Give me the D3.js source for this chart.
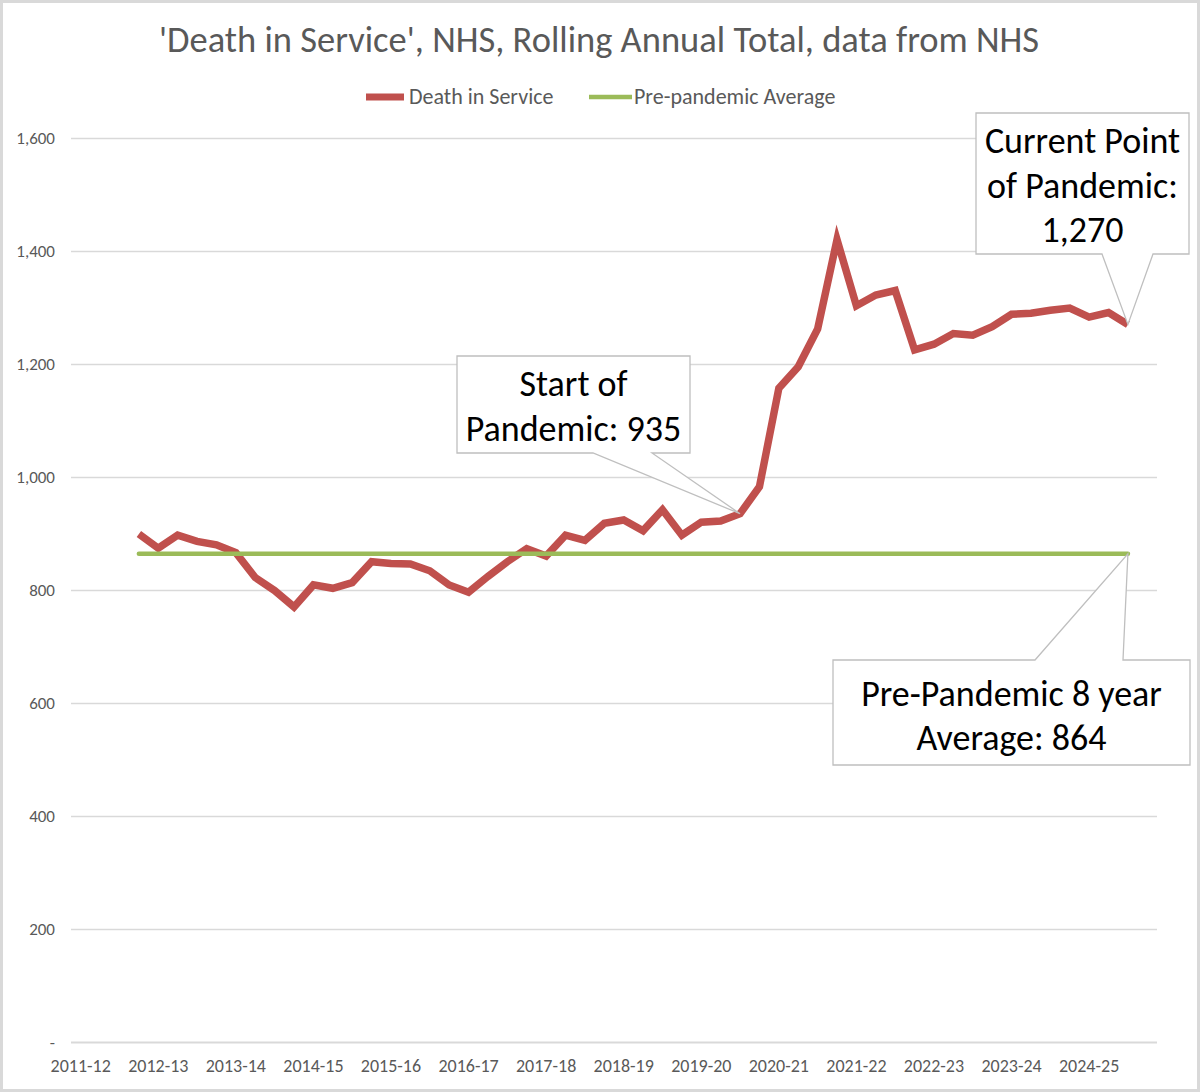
<!DOCTYPE html>
<html>
<head>
<meta charset="utf-8">
<script src="https://cdn.jsdelivr.net/npm/d3@7"></script>
<style>
  body { margin: 0; background: #fff; }
  svg text { font-family: Carlito, Calibri, "Liberation Sans", Arial, sans-serif; }
</style>
</head>
<body>
<div id="chart"></div>
<script>
/* CONSTANTS AND GLOBALS */

const width = 1200;
const height = 1092;
const margin = { top: 138, left: 71, right: 43, bottom: 50 };

// fiscal years on the category axis, four quarters each
const years = ["2011-12", "2012-13", "2013-14", "2014-15", "2015-16", "2016-17", "2017-18",
               "2018-19", "2019-20", "2020-21", "2021-22", "2022-23", "2023-24", "2024-25"];
const quarters = ["Q1", "Q2", "Q3", "Q4"];

// rolling annual total, first value is 2011-12 Q4
const deaths = [899, 874, 897, 886, 880, 866, 822, 799, 770, 809, 803, 813,
                850, 847, 846, 834, 809, 796, 824, 850, 873, 860, 897, 888,
                918, 924, 905, 942, 897, 920, 922, 935, 983, 1157, 1195, 1262,
                1420, 1303, 1322, 1330, 1225, 1235, 1254, 1251, 1266, 1288, 1290, 1295,
                1299, 1283, 1291, 1270];
const firstQuarter = 3;
const prePandemicAvg = 864;
const pandemicStartIndex = 31;

const yTicks = [0, 200, 400, 600, 800, 1000, 1200, 1400, 1600];

const seriesNames = ["Death in Service", "Pre-pandemic Average"];
const colors = ["#c0504d", "#9bbb59"];

const categories = years.flatMap(y => quarters.map(q => `${y} ${q}`));
const data = deaths.map((v, i) => ({ cat: categories[firstQuarter + i], value: v }));

const fontStack = "Carlito, Calibri, 'Liberation Sans', Arial, sans-serif";

// SCALES =================================================
const xScale = d3.scaleBand()
  .domain(categories)
  .range([margin.left, 1157]);

const yScale = d3.scaleLinear()
  .domain([0, 1600])
  .range([1042, margin.top]);

const xPos = d => xScale(d.cat) + xScale.bandwidth() / 2;

// CREATE MAIN SVG ELEMENT ==================================
const svg = d3.select("#chart")
  .append("svg")
  .attr("width", width)
  .attr("height", height);

svg.append("rect")
  .attr("x", 1.5).attr("y", 1.5)
  .attr("width", width - 3).attr("height", height - 3)
  .attr("fill", "#fff")
  .attr("stroke", "#d9d9d9")
  .attr("stroke-width", 3);

// gridlines
svg.append("g")
  .selectAll("line")
  .data(yTicks)
  .join("line")
  .attr("x1", margin.left)
  .attr("x2", 1157)
  .attr("y1", d => Math.round(yScale(d)) + 0.5)
  .attr("y2", d => Math.round(yScale(d)) + 0.5)
  .attr("stroke", "#d9d9d9")
  .attr("stroke-width", d => d === 0 ? 2 : 1.3);

// AXIS TICKS  ----------------------------------------------
const yAxis = d3.axisLeft(yScale)
  .tickValues(yTicks)
  .tickSize(0)
  .tickPadding(16)
  .tickFormat(d => d === 0 ? "-" : d3.format(",")(d));

svg.append("g")
  .attr("transform", `translate(${margin.left}, 0)`)
  .call(yAxis)
  .call(g => g.select(".domain").remove())
  .call(g => g.selectAll("text")
    .style("font-family", fontStack)
    .style("font-size", "17px")
    .attr("fill", "#595959"));

const xAxis = d3.axisBottom(xScale)
  .tickValues(categories.filter((_, i) => i % 4 === 0))
  .tickSize(0)
  .tickPadding(17)
  .tickFormat(d => d.split(" ")[0]);

svg.append("g")
  .attr("transform", `translate(0, 1042)`)
  .call(xAxis)
  .call(g => g.select(".domain").remove())
  .call(g => g.selectAll("text")
    .style("font-family", fontStack)
    .style("font-size", "18px")
    .attr("fill", "#595959"));

// LINES ==========================================
const line = d3.line()
  .x(xPos)
  .y(d => yScale(d.value));

svg.append("path")
  .datum(data)
  .attr("d", line)
  .attr("fill", "none")
  .attr("stroke", colors[0])
  .attr("stroke-width", 7.5)
  .attr("stroke-linejoin", "miter")
  .attr("stroke-miterlimit", 10);

const avgLine = d3.line()
  .x(xPos)
  .y(() => yScale(prePandemicAvg));

svg.append("path")
  .datum([data[0], data[data.length - 1]])
  .attr("d", avgLine)
  .attr("fill", "none")
  .attr("stroke", colors[1])
  .attr("stroke-width", 4.5)
  .attr("stroke-linecap", "round");

// TITLE AND LEGEND ==========================================
svg.append("text")
  .attr("x", 599)
  .attr("y", 52)
  .attr("text-anchor", "middle")
  .attr("fill", "#595959")
  .style("font-size", "36.5px")
  .text("'Death in Service', NHS, Rolling Annual Total, data from NHS");

const legendX = [366, 589];
const legend = svg.selectAll(".legend")
  .data(seriesNames)
  .join("g")
  .attr("class", "legend")
  .attr("transform", (_, i) => `translate(${legendX[i]}, 97)`);

legend.append("line")
  .attr("x1", 0).attr("x2", (_, i) => i === 0 ? 38 : 43)
  .attr("stroke", (_, i) => colors[i])
  .attr("stroke-width", (_, i) => i === 0 ? 7 : 4.5);

legend.append("text")
  .attr("x", (_, i) => i === 0 ? 43 : 45)
  .attr("y", 7)
  .attr("fill", "#595959")
  .style("font-size", "22px")
  .text(d => d);

// CALLOUTS ==========================================
const startPt = data[pandemicStartIndex];
const lastPt = data[data.length - 1];

const callouts = [
  { box: [457, 356, 690, 453], side: "bottom", base: [593, 652],
    tip: [xPos(startPt), yScale(startPt.value)],
    lines: ["Start of", "Pandemic: 935"], baselines: [396, 441] },
  { box: [976, 113, 1189, 254], side: "bottom", base: [1102, 1153],
    tip: [xPos(lastPt), yScale(lastPt.value)],
    lines: ["Current Point", "of Pandemic:", "1,270"], baselines: [153, 198, 242] },
  { box: [833, 660, 1190, 765], side: "top", base: [1035, 1123],
    tip: [xPos(lastPt), yScale(prePandemicAvg)],
    lines: ["Pre-Pandemic 8 year", "Average: 864"], baselines: [706, 750] }
];

function calloutPath(c) {
  const [x0, y0, x1, y1] = c.box;
  const [b0, b1] = c.base;
  const [tx, ty] = c.tip;
  if (c.side === "bottom") {
    return `M${x0},${y0}H${x1}V${y1}H${b1}L${tx},${ty}L${b0},${y1}H${x0}Z`;
  }
  return `M${x0},${y0}H${b0}L${tx},${ty}L${b1},${y0}H${x1}V${y1}H${x0}Z`;
}

const callG = svg.selectAll(".callout")
  .data(callouts)
  .join("g")
  .attr("class", "callout");

callG.append("path")
  .attr("d", calloutPath)
  .attr("fill", "#fff")
  .attr("stroke", "#bfbfbf")
  .attr("stroke-width", 1.3);

callG.each(function(c) {
  const g = d3.select(this);
  c.lines.forEach((t, i) => {
    g.append("text")
      .attr("x", (c.box[0] + c.box[2]) / 2)
      .attr("y", c.baselines[i])
      .attr("text-anchor", "middle")
      .attr("fill", "#000")
      .style("font-size", "36px")
      .text(t);
  });
});
</script>
</body>
</html>
